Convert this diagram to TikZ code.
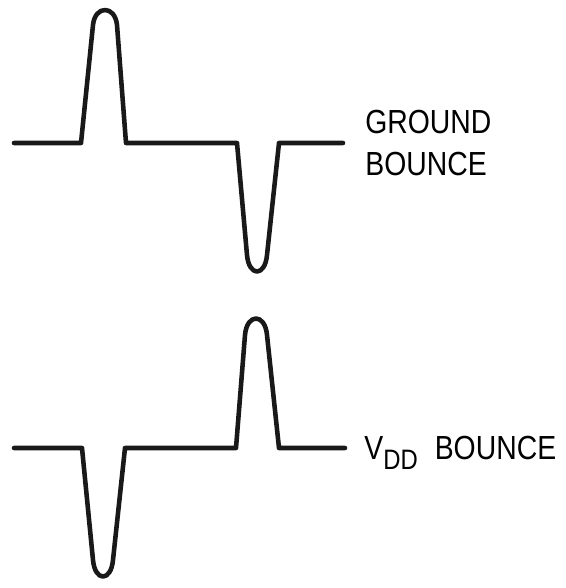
\documentclass[tikz,border=0pt]{standalone}
\usepackage{fontspec}
\setmainfont{Liberation Sans}
\usepackage{tikz}
\usetikzlibrary{positioning}
\newcommand{\narrow}[1]{\scalebox{0.85}[1]{#1}}

\begin{document}
\begin{tikzpicture}[x=0.02cm, y=-0.02cm, line cap=round, line join=round,
  wave/.style={line width=2.6pt, black!90},
  lab/.style={anchor=base west, inner sep=0pt, font=\fontsize{19}{22}\selectfont}]
  \path[use as bounding box] (0,0) rectangle (565,588);
  % ground bounce: up spike, then down spike
  \draw[wave] (14,143) -- (81,143) -- (93,25)
    .. controls (95,5) and (115,5) .. (117,25) -- (126,143)
    -- (237,143) -- (247,255)
    .. controls (249,277) and (265,277) .. (267,255) -- (279,143) -- (343,143);
  % vdd bounce: down spike, then up spike
  \draw[wave] (14,448) -- (82,448) -- (93,560)
    .. controls (95,582) and (111,582) .. (113,560) -- (125,448)
    -- (236,448) -- (245,335)
    .. controls (247,313) and (265,313) .. (267,335) -- (279,448) -- (345,448);
  \node[lab] (gnd) at (365,133) {\narrow{GROUND}};
  \node[lab, below=24pt of gnd.base west, anchor=base west] (gndb) {\narrow{BOUNCE}};
  \node[lab] (vdd) at (364,459)
    {\narrow{V\raisebox{-0.6ex}{\fontsize{16}{18}\selectfont DD}\hspace{0.6em}BOUNCE}};
\end{tikzpicture}
\end{document}
